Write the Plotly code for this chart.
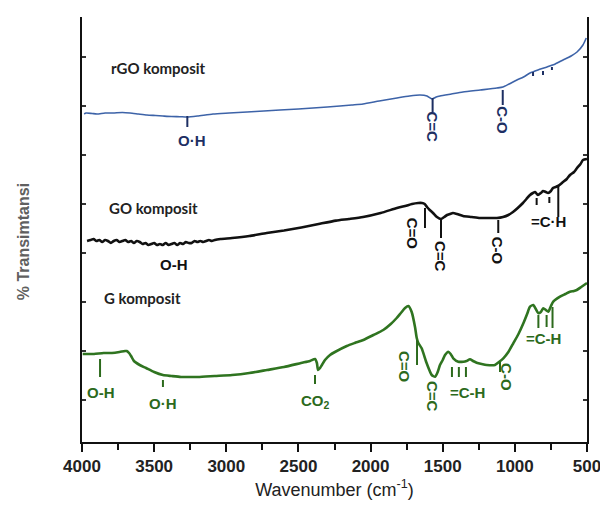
import plotly.graph_objects as go

# ---------------- data (wavenumber cm^-1, transmittance a.u., offset-stacked) ----------------
rgo_wn = [3985, 3972, 3930, 3896, 3840, 3785, 3720, 3667, 3610, 3550, 3490, 3439, 3380, 3321, 3272, 3200,
          3092, 2980, 2856, 2740, 2628, 2500, 2399, 2300, 2212, 2130, 2052, 1940, 1817, 1730, 1657, 1609,
          1574, 1545, 1519, 1440, 1360, 1240, 1125, 1083, 1040, 986, 940, 895, 840, 777, 720, 666, 610,
          569, 528, 505]
rgo_t = [328, 329, 328.5, 328, 329, 329, 329.5, 329, 328, 327, 326.5, 326, 325.5, 325.3, 325, 326,
         328, 329, 330, 331, 332, 333, 334, 335, 336, 337, 338, 341, 344, 346, 347, 346,
         343, 345, 346, 348, 350, 352, 354, 355, 358, 362, 365, 369, 372, 375, 378, 382, 386,
         390, 397, 404]

go_wn = [3965, 3940, 3920, 3900, 3880, 3860, 3840, 3820, 3800, 3780, 3760, 3740, 3720, 3700, 3680, 3660,
         3640, 3620, 3600, 3580, 3560, 3540, 3520, 3500, 3480, 3460, 3440, 3420, 3400, 3380, 3360, 3340,
         3320, 3300, 3280, 3260, 3240, 3220, 3200, 3180, 3160, 3140, 3120, 3100, 3080, 3040, 2960, 2840,
         2720, 2600, 2480, 2360, 2240, 2150, 2052, 1930, 1817, 1760, 1713, 1670, 1644, 1625, 1609, 1590,
         1567, 1540, 1512, 1490, 1470, 1450, 1429, 1400, 1359, 1300, 1242, 1180, 1124, 1082, 1045, 1013,
         980, 944, 920, 895, 875, 860, 840, 820, 805, 785, 770, 750, 736, 701, 666, 640, 618, 590,
         569, 545, 528, 500]
go_t = [201, 202, 203, 201, 202, 200, 202, 201, 199, 201, 202, 200, 201, 202, 200, 201,
        199, 201, 200, 198, 199, 197, 198, 199, 197, 198, 197, 199, 197, 198, 199, 197,
        199, 198, 200, 199, 199, 201, 200, 201, 200, 201, 202, 201, 202, 203, 204, 206,
        209, 211.5, 214.5, 218, 221.4, 223, 225, 229, 234, 236, 238, 239, 239, 238, 235, 232,
        229, 225, 223, 225, 227, 228, 229, 228, 226, 225, 224, 224, 224, 225, 227, 230,
        234, 239, 243, 247, 249, 250, 247, 249, 251, 250, 249, 251, 254, 256, 260, 263, 267, 270,
        274, 278, 282, 283]

g_wn = [3995, 3960, 3917, 3850, 3792, 3740, 3702, 3690, 3674, 3660, 3640, 3600, 3556, 3500, 3439, 3380,
        3314, 3250, 3196, 3080, 2960, 2840, 2718, 2600, 2482, 2420, 2385, 2372, 2364, 2350, 2337, 2316,
        2281, 2247, 2165, 2110, 2050, 1980, 1912, 1860, 1819, 1790, 1761, 1738, 1715, 1692, 1680, 1669,
        1646, 1611, 1576, 1553, 1535, 1519, 1500, 1484, 1461, 1445, 1427, 1392, 1357, 1335, 1311, 1290,
        1265, 1230, 1195, 1138, 1110, 1080, 1045, 1011, 975, 941, 915, 895, 872, 855, 837, 820, 803,
        785, 768, 750, 734, 687, 650, 618, 590, 571, 540, 500]
g_t = [88, 88, 88, 89, 89, 90, 91, 91, 89, 86, 81, 77, 74, 70, 67, 66,
       65, 65, 65, 66, 67, 69, 72, 75, 79, 81, 83, 79, 72, 74, 77, 82,
       87, 90, 96, 99, 102, 107, 112, 118, 124, 129, 134, 136, 130, 115, 104, 99,
       93.7, 78.7, 67, 65.3, 70, 77, 82, 87, 90.3, 88, 83.7, 80.3, 80.3, 81, 82.7, 81,
       79.3, 78, 77, 77, 80, 83.7, 90, 98.7, 108, 118.7, 128, 135.3, 137, 133, 128.7, 130, 133.7,
       132, 130.3, 136, 140.3, 145.3, 148, 150.3, 151, 152, 155, 159]

x_ticks = [4000, 3500, 3000, 2500, 2000, 1500, 1000, 500]
y_ticks = [42, 91, 140, 189, 238, 287, 336, 385]

series_names = ["rGO komposit", "GO komposit", "G komposit"]
series_colors = ["#3d63a8", "#111111", "#2f7420"]
label_colors = ["#1d2f63", "#111111", "#2c6a1c"]
series_widths = [1.6, 2.6, 2.6]
name_wn = [3815, 3830, 3862]
name_t = [374, 234, 144]

# peak marker segments: (series index, wavenumber, top, bottom)
mark_series = [0, 0, 0, 0, 0, 0,
               1, 1, 1, 1, 1, 1,
               2, 2, 2, 2, 2, 2, 2, 2, 2, 2, 2]
mark_wn = [3270, 1570, 1084, 874, 805, 743,
           1623, 1512, 1115, 849, 761, 699,
           3875, 3439, 2385, 1678, 1436, 1388, 1339, 1103, 837, 780, 739]
mark_top = [326, 344, 352, 370, 371, 375,
            234, 222, 222, 244, 245, 257,
            83, 62, 67, 102, 75, 75, 75, 80, 127, 127, 135]
mark_bot = [315, 330, 337, 366, 367, 372,
            214, 204, 209, 237, 239, 225,
            65, 55, 58, 77, 65, 65, 65, 70, 114, 115, 114]

# peak labels: (series index, wavenumber, position, text, rotated)
lab_series = [0, 0, 0,
              1, 1, 1, 1, 1,
              2, 2, 2, 2, 2, 2, 2, 2]
lab_wn = [3238, 1570, 1084,
          3363, 1704, 1512, 1115, 767,
          3868, 3439, 2385, 1761, 1567, 1328, 1055, 802]
lab_t = [302, 315, 322,
         178, 208, 185, 191, 221,
         50, 39, 41, 75, 46, 50, 65, 104]
lab_text = ["O·H", "C=C", "C-O",
            "O-H", "C=O", "C=C", "C-O", "=C·H",
            "O-H", "O·H", "CO<sub>2</sub>", "C=O", "C=C", "=C-H", "C-O", "=C-H"]
lab_rot = [False, True, True,
           False, True, True, True, False,
           False, False, False, True, True, False, True, False]

# ---------------- figure ----------------
fig = go.Figure()
for name, wn, t, c, w in zip(series_names, [rgo_wn, go_wn, g_wn], [rgo_t, go_t, g_t],
                             series_colors, series_widths):
    fig.add_trace(go.Scatter(x=wn, y=t, mode="lines", name=name,
                             line=dict(color=c, width=w, shape="spline", smoothing=0.6),
                             showlegend=False, hoverinfo="skip"))

for s, wn, t0, t1 in zip(mark_series, mark_wn, mark_top, mark_bot):
    fig.add_shape(type="line", xref="x", yref="y", x0=wn, x1=wn, y0=t0, y1=t1,
                  line=dict(color=label_colors[s], width=2))

for s, wn, t, txt, rot in zip(lab_series, lab_wn, lab_t, lab_text, lab_rot):
    fig.add_annotation(x=wn, y=t, xref="x", yref="y", text="<b>" + txt + "</b>", showarrow=False,
                       textangle=90 if rot else 0,
                       font=dict(family="Liberation Sans, Arial", size=15, color=label_colors[s]),
                       xanchor="center", yanchor="middle")

for name, wn, t in zip(series_names, name_wn, name_t):
    fig.add_annotation(x=wn, y=t, xref="x", yref="y", text="<b>" + name + "</b>", showarrow=False,
                       font=dict(family="Lato, Open Sans", size=15, color="#222222"),
                       xanchor="left", yanchor="middle")

fig.add_annotation(x=0, y=0.47, xref="paper", yref="paper", text="<b>% Transimtansi</b>",
                   showarrow=False, textangle=-90, xshift=-59,
                   font=dict(family="Liberation Sans, Arial", size=16, color="#606060"),
                   xanchor="center", yanchor="middle")

fig.update_layout(
    width=600, height=507,
    margin=dict(l=82, r=13, t=17, b=65, autoexpand=False),
    paper_bgcolor="white", plot_bgcolor="white",
    xaxis=dict(range=[4000, 500], tickvals=x_ticks, ticks="outside", ticklen=8, tickwidth=2,
               tickcolor="#111", showline=True, linecolor="#111", linewidth=2, mirror=False,
               showgrid=False, zeroline=False, automargin=False, ticklabeloverflow="allow",
               minor=dict(ticks="outside", ticklen=6, tickwidth=2, tickcolor="#111", dtick=250, tick0=0,
                          showgrid=False),
               tickfont=dict(family="Liberation Sans Narrow, Liberation Sans", size=17,
                             weight="bold", color="#222"),
               title=dict(text="Wavenumber (cm<sup>-1</sup>)", standoff=8,
                          font=dict(family="Liberation Sans, Arial", size=18, color="#222"))),
    yaxis=dict(range=[0, 425], tickvals=y_ticks, showticklabels=False, ticks="inside", ticklen=4,
               tickwidth=1.5, tickcolor="#333", showline=True, linecolor="#111", linewidth=2,
               mirror="ticks", showgrid=False, zeroline=False, automargin=False),
)

fig.write_html("out.html", config={"displayModeBar": False},
               post_script="document.body.style.margin='0';document.body.style.padding='0';")
